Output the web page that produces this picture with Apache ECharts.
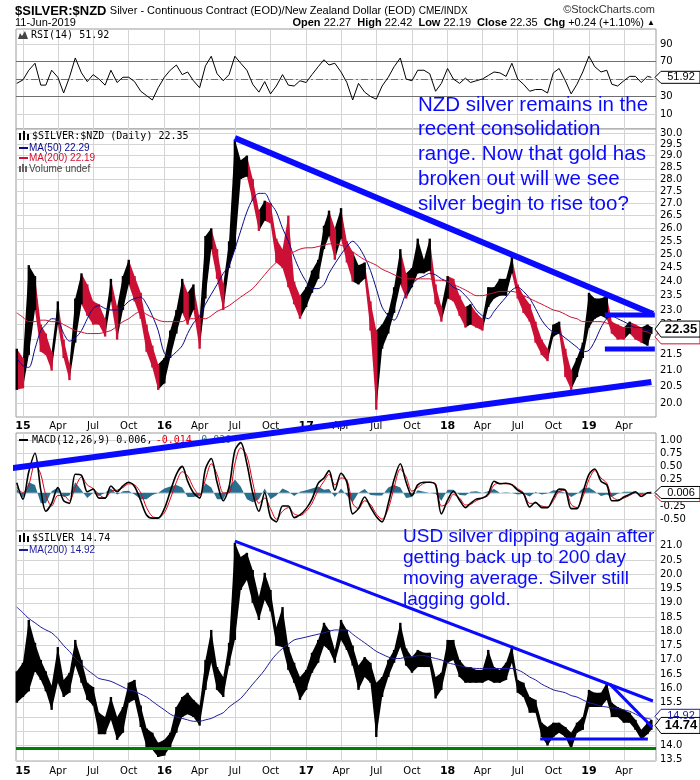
<!DOCTYPE html>
<html><head><meta charset="utf-8">
<script src="https://cdn.jsdelivr.net/npm/echarts@6/dist/echarts.min.js"></script>
<style>html,body{margin:0;padding:0;background:#fff}#c{width:700px;height:780px}</style>
</head><body><div id="c"></div>
<script>
// ---------------- DATA (half-monthly readings) ----------------
const dates = [
'2014-12-16',
'2015-01-01','2015-01-16','2015-02-01','2015-02-16','2015-03-01','2015-03-16','2015-04-01','2015-04-16','2015-05-01','2015-05-16','2015-06-01','2015-06-16','2015-07-01','2015-07-16','2015-08-01','2015-08-16','2015-09-01','2015-09-16','2015-10-01','2015-10-16','2015-11-01','2015-11-16','2015-12-01','2015-12-16',
'2016-01-01','2016-01-16','2016-02-01','2016-02-16','2016-03-01','2016-03-16','2016-04-01','2016-04-16','2016-05-01','2016-05-16','2016-06-01','2016-06-16','2016-07-01','2016-07-16','2016-08-01','2016-08-16','2016-09-01','2016-09-16','2016-10-01','2016-10-16','2016-11-01','2016-11-16','2016-12-01','2016-12-16',
'2017-01-01','2017-01-16','2017-02-01','2017-02-16','2017-03-01','2017-03-16','2017-04-01','2017-04-16','2017-05-01','2017-05-16','2017-06-01','2017-06-16','2017-07-01','2017-07-16','2017-08-01','2017-08-16','2017-09-01','2017-09-16','2017-10-01','2017-10-16','2017-11-01','2017-11-16','2017-12-01','2017-12-16',
'2018-01-01','2018-01-16','2018-02-01','2018-02-16','2018-03-01','2018-03-16','2018-04-01','2018-04-16','2018-05-01','2018-05-16','2018-06-01','2018-06-16','2018-07-01','2018-07-16','2018-08-01','2018-08-16','2018-09-01','2018-09-16','2018-10-01','2018-10-16','2018-11-01','2018-11-16','2018-12-01','2018-12-16',
'2019-01-01','2019-01-16','2019-02-01','2019-02-16','2019-03-01','2019-03-16','2019-04-01','2019-04-16','2019-05-01','2019-05-16','2019-06-01','2019-06-11'];

const nzdClose = [21.0,
20.8,23.0,23.5,22.0,21.8,21.3,23.0,21.7,21.0,22.8,23.6,23.2,23.0,22.9,22.4,23.6,22.6,23.6,24.5,23.8,23.2,22.0,21.4,20.7,
21.0,21.8,22.5,23.5,22.9,23.5,22.2,25.3,25.7,24.6,23.4,25.0,28.5,28.5,28.8,27.7,26.3,26.7,26.5,25.1,24.7,24.5,23.6,23.0,
23.3,24.0,24.5,25.6,25.8,25.2,26.3,25.5,24.3,24.3,24.5,22.6,21.7,22.0,22.4,23.2,24.1,23.8,24.1,24.5,24.6,24.7,23.4,22.8,
23.8,23.6,23.1,22.7,22.8,22.6,22.5,23.4,23.5,23.7,23.7,24.6,23.6,23.2,22.8,22.3,21.8,21.6,22.2,22.3,21.0,20.6,21.0,21.5,
23.0,23.0,23.1,23.1,22.3,22.2,22.1,22.3,22.2,22.1,22.1,22.35];
const nzdLow = [20.4,
20.45,21.5,23.0,21.6,21.5,21.0,22.5,21.4,20.7,21.9,23.2,22.8,22.5,22.5,22.1,23.3,22.0,23.0,23.9,23.3,22.7,21.6,21.1,20.4,
20.6,21.4,22.2,22.9,22.5,23.0,21.7,23.4,25.2,24.1,23.0,24.5,25.2,28.0,28.1,27.1,25.9,26.3,26.2,24.7,24.5,23.8,23.2,22.7,
23.1,23.6,24.1,25.2,25.7,24.8,25.6,24.7,24.0,23.9,24.1,22.3,19.8,21.7,22.2,22.9,23.9,23.4,23.8,24.3,24.3,24.4,23.2,22.6,
23.4,23.3,22.8,22.4,22.5,22.4,22.3,23.1,23.4,23.5,23.5,24.3,23.4,22.9,22.6,21.9,21.5,21.3,22.1,22.2,20.8,20.4,20.8,21.4,
22.4,22.7,22.8,22.7,22.2,22.0,22.0,22.2,22.0,21.9,21.8,22.19];
const nzdHigh = [21.7,
21.4,24.6,24.2,22.5,22.2,21.6,23.3,22.0,21.2,23.4,24.3,23.9,23.3,23.2,22.7,24.1,23.1,24.2,24.8,24.2,23.6,22.5,21.8,21.2,
21.4,22.3,23.0,24.1,23.6,23.9,22.7,25.7,26.0,25.2,23.9,25.5,29.7,28.8,29.0,28.0,26.7,27.1,27.0,25.6,25.2,26.5,24.0,23.5,
23.8,24.4,24.8,26.1,26.7,26.0,26.8,25.5,25.1,24.6,24.7,23.3,22.3,22.5,22.9,23.8,25.2,24.3,24.5,25.6,24.8,25.6,23.9,23.1,
24.2,24.1,23.5,23.1,23.2,22.9,22.7,23.8,23.8,24.1,24.1,24.9,23.9,23.5,23.2,22.6,22.0,21.7,22.5,22.6,21.7,21.0,21.4,21.9,
23.6,23.4,23.4,23.5,22.6,22.5,22.4,22.6,22.5,22.4,22.5,22.42];
const nzdMA50 = [21.4,
21.15,21.1,21.7,22.3,22.5,22.7,22.65,22.2,21.95,22.05,22.3,22.7,23.05,23.15,23.05,23.0,23.0,23.1,23.3,23.4,23.45,23.2,22.8,22.3,
21.55,21.45,21.6,21.8,22.2,22.55,22.8,23.2,23.55,23.9,24.3,24.6,25.2,25.9,26.65,27.15,27.4,27.4,27.0,26.65,26.0,25.5,24.9,24.4,
24.0,23.75,23.75,23.9,24.3,24.65,25.0,25.3,25.5,25.3,24.9,24.4,23.75,23.1,22.8,22.65,23.05,23.6,23.9,24.1,24.2,24.3,24.25,24.1,
24.0,23.8,23.7,23.5,23.3,23.0,22.8,22.7,22.95,23.2,23.45,23.7,23.8,23.65,23.4,23.05,22.65,22.4,22.25,22.2,22.05,21.9,21.75,21.6,
21.65,21.95,22.4,22.7,22.8,22.7,22.6,22.5,22.4,22.4,22.3,22.29];
const nzdMA200 = [22.9,
22.75,22.6,22.6,22.65,22.65,22.6,22.6,22.5,22.4,22.3,22.25,22.2,22.2,22.2,22.25,22.3,22.45,22.6,22.7,22.85,22.95,22.85,22.75,22.65,
22.6,22.6,22.6,22.6,22.7,22.7,22.7,22.7,22.8,22.95,23.05,23.15,23.3,23.45,23.6,23.75,24.0,24.25,24.5,24.7,24.9,25.0,25.1,25.2,
25.25,25.25,25.3,25.35,25.4,25.4,25.35,25.25,25.1,24.95,24.8,24.7,24.6,24.45,24.35,24.25,24.15,24.1,24.1,24.1,24.1,24.1,24.05,24.05,
24.0,23.9,23.8,23.7,23.6,23.5,23.5,23.55,23.6,23.65,23.65,23.65,23.6,23.5,23.4,23.3,23.2,23.1,23.0,22.95,22.85,22.75,22.7,22.6,
22.6,22.6,22.6,22.55,22.5,22.45,22.4,22.4,22.35,22.3,22.25,22.19];
const rsi14 = [45,
49,60,68,43,43,60,52,34,52,74,57,47,55,50,43,60,46,52,52,47,36,31,26,40,
52,60,66,55,58,48,40,65,76,56,48,55,76,68,60,44,35,47,33,42,55,43,42,48,
46,55,64,72,66,68,58,46,26,45,35,30,27,42,52,64,74,50,48,60,60,56,36,45,
62,50,45,51,46,48,50,54,58,57,53,68,50,44,36,38,38,34,57,62,48,33,44,58,
76,64,58,60,44,42,48,53,53,46,53,51.92];
const macdLine = [0.19,
-0.12,0.4,0.75,0.05,-0.35,-0.2,0.1,-0.15,-0.2,0.35,0.33,0.02,0.07,-0.1,-0.1,0.13,0.02,0.13,0.2,0.12,-0.15,-0.42,-0.48,-0.48,
-0.3,0.02,0.35,0.5,0.22,0.0,-0.1,0.45,0.65,0.2,-0.15,0.11,0.8,0.95,0.55,0.0,-0.35,0.0,-0.46,-0.55,-0.25,-0.25,-0.47,-0.42,
-0.3,-0.12,0.18,0.28,0.42,0.05,0.37,0.2,-0.4,-0.3,-0.08,-0.27,-0.45,-0.55,-0.2,0.25,0.55,0.2,-0.05,0.15,0.2,0.2,0.15,-0.4,
-0.14,0.03,-0.14,-0.28,-0.2,-0.12,-0.1,-0.02,0.22,0.17,0.18,0.15,0.05,-0.02,-0.27,-0.18,-0.28,-0.28,-0.1,0.07,0.05,-0.3,-0.3,0.0,
0.35,0.45,0.22,0.15,-0.15,-0.15,-0.08,-0.03,0.02,-0.07,0.0,0.006];
const macdSignal = [0.1,
0.0,0.15,0.55,0.35,-0.05,-0.25,-0.05,-0.05,-0.15,0.1,0.3,0.15,0.08,-0.03,-0.1,0.03,0.05,0.1,0.17,0.15,0.0,-0.28,-0.45,-0.47,
-0.38,-0.12,0.2,0.4,0.32,0.1,-0.05,0.25,0.55,0.35,0.0,0.0,0.55,0.85,0.7,0.2,-0.2,-0.1,-0.3,-0.5,-0.35,-0.28,-0.4,-0.43,
-0.35,-0.2,0.05,0.22,0.35,0.15,0.28,0.25,-0.2,-0.3,-0.15,-0.22,-0.4,-0.5,-0.3,0.1,0.45,0.3,0.03,0.1,0.18,0.2,0.17,-0.25,
-0.2,-0.03,-0.1,-0.23,-0.22,-0.15,-0.1,-0.05,0.15,0.18,0.17,0.16,0.08,0.0,-0.2,-0.2,-0.25,-0.27,-0.15,0.03,0.05,-0.22,-0.28,-0.08,
0.25,0.42,0.28,0.18,-0.07,-0.13,-0.1,-0.05,0.0,-0.04,-0.01,-0.014];
const macdHist = [0.08,
-0.1,0.2,0.15,-0.2,-0.2,0.03,0.1,-0.08,-0.05,0.2,0.05,-0.1,0.0,-0.06,0.0,0.08,-0.03,0.03,0.04,-0.03,-0.12,-0.12,-0.04,0.0,
0.08,0.12,0.15,0.1,-0.08,-0.08,-0.05,0.18,0.1,-0.12,-0.12,0.1,0.25,0.12,-0.12,-0.18,-0.12,0.08,-0.12,-0.05,0.08,0.03,-0.06,0.02,
0.05,0.08,0.12,0.06,0.07,-0.08,0.08,-0.05,-0.18,0.0,0.07,-0.04,-0.05,-0.05,0.1,0.15,0.1,-0.1,-0.08,0.05,0.02,0.0,-0.02,-0.15,
0.06,0.06,-0.04,-0.05,0.02,0.03,0.0,0.03,0.07,0.0,0.01,0.0,-0.03,-0.02,-0.07,0.02,-0.03,-0.01,0.05,0.04,0.0,-0.08,-0.02,0.08,
0.1,0.03,-0.06,-0.03,-0.08,-0.02,0.02,0.02,0.02,-0.03,0.01,0.02];
const usdClose = [15.9,
16.0,17.5,17.2,16.7,16.2,15.6,16.8,16.1,16.3,17.2,16.7,15.8,15.7,14.8,14.7,15.3,14.6,14.8,15.8,15.9,15.1,14.3,14.1,13.8,
13.9,14.1,14.9,15.3,15.4,15.3,15.0,16.6,17.3,16.4,16.0,17.3,19.5,20.0,20.2,19.5,18.6,19.3,18.8,17.6,17.8,17.0,16.6,16.0,
16.3,16.8,17.1,17.8,17.6,17.1,18.0,17.8,17.3,16.5,16.7,16.5,15.8,16.0,16.8,17.2,17.8,17.0,16.8,17.0,16.9,16.9,16.0,16.2,
17.1,17.2,16.7,16.5,16.5,16.4,16.4,16.6,16.5,16.4,16.6,17.1,16.0,15.8,15.3,15.2,14.4,14.3,14.5,14.5,14.4,14.2,14.5,14.8,
15.5,15.5,15.5,15.8,15.2,15.1,15.0,14.95,14.8,14.5,14.6,14.74];
const usdLow = [15.5,
15.7,15.9,16.6,16.3,15.9,15.25,16.2,15.7,15.85,16.8,16.2,15.6,15.4,14.4,14.4,14.9,14.2,14.45,15.5,15.6,14.65,13.95,13.85,13.6,
13.65,13.95,14.45,15.0,15.1,15.0,14.7,15.95,16.9,15.95,15.7,16.8,17.7,19.45,19.8,19.0,18.4,19.1,18.7,17.5,17.45,16.65,16.2,15.6,
15.95,16.55,16.9,17.5,17.35,16.9,17.7,17.35,16.8,15.95,16.4,16.2,14.3,15.7,16.4,16.9,17.45,16.8,16.55,16.75,16.75,16.75,15.65,15.95,
16.9,17.0,16.4,16.2,16.2,16.2,16.2,16.3,16.2,16.2,16.3,16.9,15.85,15.7,15.15,15.15,14.3,14.0,14.3,14.45,14.3,13.85,14.45,14.55,
15.35,15.35,15.35,15.6,15.0,15.0,14.8,14.8,14.55,14.2,14.4,14.55];
const usdHigh = [16.6,
16.9,18.4,17.6,17.0,16.6,16.1,17.45,16.3,16.55,17.7,17.0,16.2,16.05,15.15,15.0,15.7,15.0,15.35,16.2,16.3,15.4,14.6,14.45,14.1,
14.2,14.45,15.35,15.7,15.85,15.6,15.4,17.0,18.05,16.75,16.4,17.6,21.1,20.6,20.75,20.15,19.2,20.05,19.45,18.15,18.85,17.45,16.9,16.4,
16.65,17.25,17.7,18.3,18.05,17.35,18.4,18.05,17.5,16.8,17.1,16.9,16.2,16.4,17.0,17.35,18.3,17.4,17.1,17.35,17.25,17.25,16.4,16.55,
17.7,17.7,17.0,16.75,16.75,16.65,16.65,17.35,16.75,16.65,16.9,17.5,16.3,16.2,15.7,15.6,14.8,14.65,14.8,14.8,14.65,14.45,14.8,15.0,
15.95,15.85,15.85,16.2,15.5,15.35,15.25,15.15,14.9,14.55,14.8,14.9];
const usdMA200 = [18.85,
18.65,18.45,18.3,18.15,18.05,17.95,17.75,17.5,17.3,17.05,16.85,16.65,16.5,16.35,16.3,16.25,16.15,16.05,15.95,15.9,15.8,15.7,15.55,15.4,
15.25,15.1,15.0,14.95,14.9,14.85,14.85,14.9,14.95,15.05,15.15,15.35,15.5,15.65,15.9,16.15,16.4,16.65,16.95,17.2,17.4,17.55,17.7,17.75,
17.8,17.85,17.9,17.95,18.0,18.05,18.05,18.05,17.9,17.75,17.6,17.45,17.3,17.2,17.1,17.05,17.05,17.1,17.1,17.15,17.15,17.1,17.05,17.0,
16.9,16.85,16.8,16.75,16.72,16.7,16.7,16.7,16.7,16.7,16.7,16.7,16.65,16.55,16.4,16.3,16.15,16.05,15.95,15.9,15.85,15.75,15.7,15.6,
15.5,15.45,15.38,15.35,15.32,15.3,15.25,15.2,15.1,15.0,14.95,14.92];

// tick labels
const quarterTicks = ['2015-01-01','2015-04-01','2015-07-01','2015-10-01','2016-01-01','2016-04-01','2016-07-01','2016-10-01',
 '2017-01-01','2017-04-01','2017-07-01','2017-10-01','2018-01-01','2018-04-01','2018-07-01','2018-10-01','2019-01-01','2019-04-01'];
const rsiTicks = [10,30,50,70,90];
const nzdTicks = [20.0,20.5,21.0,21.5,22.0,22.5,23.0,23.5,24.0,24.5,25.0,25.5,26.0,26.5,27.0,27.5,28.0,28.5,29.0,29.5,30.0];
const macdTicks = [-0.5,-0.25,0,0.25,0.5,0.75,1.0];
const usdTicks = [13.5,14.0,14.5,15.0,15.5,16.0,16.5,17.0,17.5,18.0,18.5,19.0,19.5,20.0,20.5,21.0];

// hand-drawn annotation lines (date, price)
const nzdResistance = [['2016-07-01',29.78],['2019-06-15',22.86]];
const nzdSupport = [['2014-12-04',18.14],['2019-06-11',20.64]];
const nzdRangeTop = [['2019-02-11',22.83],['2019-06-20',22.83]];
const nzdRangeBottom = [['2019-02-11',21.69],['2019-06-20',21.69]];
const usdResistance = [['2016-07-01',21.16],['2019-06-15',15.56]];
const usdFalling = [['2019-02-24',16.15],['2019-06-13',14.65]];
const usdFloor = [['2018-08-28',14.23],['2019-06-02',14.23]];
const usdSupportLevel = 13.92;

// ---------------- BUILD ----------------
function ts(s){const p=s.split('-').map(Number);return Date.UTC(p[0],p[1]-1,p[2]);}
const T = dates.map(ts);
const ln = Math.log;
const monthNames=['Jan','Feb','Mar','Apr','May','Jun','Jul','Aug','Sep','Oct','Nov','Dec'];
const qTs = quarterTicks.map(ts);
const X0 = ts('2014-12-14'), X1 = ts('2019-06-23');
const LABEL_FONT = 'DejaVu Sans';

function xAxis(gi, showLabel, margin){
  return {type:'value', gridIndex:gi, min:X0, max:X1,
    axisLine:{show:false}, axisTick:{show:false, customValues:qTs},
    splitLine:{show:true, lineStyle:{color:'#d4d4d4', width:1}},
    axisLabel:{show:showLabel, customValues:qTs, margin:margin, color:'#000', fontSize:10, fontFamily:LABEL_FONT,
      formatter:function(v){const d=new Date(v);const m=d.getUTCMonth();
        return m===0?'{y|'+String(d.getUTCFullYear()).slice(2)+'}':monthNames[m];},
      rich:{y:{fontWeight:'bold',fontSize:11,fontFamily:LABEL_FONT,color:'#000'}}}
  };
}
function yAxis(gi, min, max, ticks, fmt){
  return {type:'value', gridIndex:gi, position:'right', min:min, max:max,
    axisLine:{show:false}, axisTick:{show:false, customValues:ticks},
    splitLine:{show:true, lineStyle:{color:'#d4d4d4', width:1}},
    axisLabel:{customValues:ticks, formatter:fmt, margin:4, color:'#000', fontSize:10, fontFamily:LABEL_FONT}
  };
}
const gridBase = {left:16, width:640, show:true, borderColor:'#9a9a9a', borderWidth:1, backgroundColor:'#fff'};

const nzdBars = T.map((t,i)=>[t, ln(nzdLow[i]), ln(nzdHigh[i]), ln(nzdClose[i]), (i===0||nzdClose[i]>=nzdClose[i-1])?1:0]);
const usdBars = T.map((t,i)=>[t, usdLow[i], usdHigh[i], usdClose[i], 1]);
// price ribbon: each item joins its low-high range to the next one's, like dense daily bars seen from afar
function ribbonRender(rows, colorUp, colorDown){
  return function(params, api){
    const i = params.dataIndex;
    const a = rows[i], b = rows[Math.min(i+1, rows.length-1)];
    const w = 1.2;
    const ah = api.coord([a[0], a[2]]), al = api.coord([a[0], a[1]]);
    const bh = api.coord([b[0], b[2]]), bl = api.coord([b[0], b[1]]);
    const col = b[4] ? colorUp : colorDown;
    const children = [];
    if (b !== a) {
      children.push({type:'polygon', shape:{points:[ah, bh, bl, al]}, style:{fill:col}});
    }
    children.push({type:'rect', shape:{x:ah[0]-w, y:ah[1], width:2*w, height:Math.max(1, al[1]-ah[1])}, style:{fill:a[4]?colorUp:colorDown}});
    return {type:'group', children:children};
  };
}
const lnPts = arr => arr.map(p=>[ts(p[0]), ln(p[1])]);
const pts = arr => arr.map(p=>[ts(p[0]), p[1]]);
const BLUE = '#0a0aff';
function trend(xi, yi, data, width){
  return {type:'line', xAxisIndex:xi, yAxisIndex:yi, data:data, symbol:'none', silent:true, clip:false, z:20,
    lineStyle:{color:BLUE, width:width, cap:'butt'}};
}

const option = {
  animation:false,
  backgroundColor:'#fff',
  grid:[
    Object.assign({top:29, height:100}, gridBase),
    Object.assign({top:129, height:288}, gridBase),
    Object.assign({top:433, height:98}, gridBase),
    Object.assign({top:531, height:230}, gridBase)
  ],
  xAxis:[xAxis(0,false,3), xAxis(1,true,4), xAxis(2,false,3), xAxis(3,true,5)],
  yAxis:[
    yAxis(0, -7.1, 107.1, rsiTicks, v=>String(Math.round(v))),
    yAxis(1, 2.9748, 3.4072, nzdTicks.map(ln), v=>Math.exp(v).toFixed(1)),
    yAxis(2, -0.7235, 1.1326, macdTicks, v=>v.toFixed(2)),
    yAxis(3, 13.459, 21.515, usdTicks, v=>v.toFixed(1))
  ],
  series:[
    {type:'line', xAxisIndex:0, yAxisIndex:0, data:T.map((t,i)=>[t,rsi14[i]]), symbol:'none',
      lineStyle:{color:'#000', width:1}, z:5,
      markLine:{silent:true, symbol:'none', label:{show:false},
        data:[{yAxis:70, lineStyle:{color:'#707070', width:1, type:'solid'}},
              {yAxis:30, lineStyle:{color:'#707070', width:1, type:'solid'}},
              {yAxis:50, lineStyle:{color:'#707070', width:1, type:[7,3,2,3]}}]}},
    {type:'custom', xAxisIndex:1, yAxisIndex:1, data:nzdBars, encode:{x:0,y:[1,2]}, renderItem:ribbonRender(nzdBars,'#000','#cc1035'), silent:true, z:3},
    {type:'line', xAxisIndex:1, yAxisIndex:1, data:T.map((t,i)=>[t,ln(nzdMA50[i])]), symbol:'none', lineStyle:{color:'#0a0a8c', width:1}, z:6, smooth:0.3},
    {type:'line', xAxisIndex:1, yAxisIndex:1, data:T.map((t,i)=>[t,ln(nzdMA200[i])]), symbol:'none', lineStyle:{color:'#d01030', width:1}, z:6, smooth:0.3},
    trend(1,1,lnPts(nzdResistance),6),
    trend(1,1,lnPts(nzdSupport),6),
    trend(1,1,lnPts(nzdRangeTop),5),
    trend(1,1,lnPts(nzdRangeBottom),5),
    {type:'line', xAxisIndex:2, yAxisIndex:2, data:T.map((t,i)=>[t,macdHist[i]]), symbol:'none', silent:true, z:3,
      lineStyle:{width:0}, areaStyle:{color:'#2b6f8e', opacity:1}},
    {type:'line', xAxisIndex:2, yAxisIndex:2, data:T.map((t,i)=>[t,macdSignal[i]]), symbol:'none', lineStyle:{color:'#e00010', width:1}, z:5, smooth:0.3},
    {type:'line', xAxisIndex:2, yAxisIndex:2, data:T.map((t,i)=>[t,macdLine[i]]), symbol:'none', lineStyle:{color:'#000', width:1.6}, z:6, smooth:0.3},
    {type:'custom', xAxisIndex:3, yAxisIndex:3, data:usdBars, encode:{x:0,y:[1,2]}, renderItem:ribbonRender(usdBars,'#000','#000'), silent:true, z:3},
    {type:'line', xAxisIndex:3, yAxisIndex:3, data:T.map((t,i)=>[t,usdMA200[i]]), symbol:'none', lineStyle:{color:'#1c1ca0', width:1}, z:6, smooth:0.3,
      markLine:{silent:true, symbol:'none', label:{show:false},
        data:[{yAxis:usdSupportLevel, lineStyle:{color:'#008000', width:3, type:'solid'}}]}},
    trend(3,3,pts(usdResistance),3),
    trend(3,3,pts(usdFalling),3),
    trend(3,3,pts(usdFloor),3)
  ]
};

const chart = echarts.init(document.getElementById('c'), null, {renderer:'canvas', width:700, height:780});
chart.setOption(option);

// ---------------- TEXT / TAGS ----------------
function txt(x,y,text,font,fill,align){
  return {type:'text', x:x, y:y, z:100, silent:true,
    style:{text:text, font:font, fill:fill||'#000', textAlign:align||'left', textVerticalAlign:'middle'}};
}
function tagShape(y, text, stroke, font, h, textColor){
  const x=656, w=44;
  return [
    {type:'polygon', z:110, silent:true, shape:{points:[[x-1,y],[x+5,y-h],[x+w,y-h],[x+w,y+h],[x+5,y+h]]},
      style:{fill:'#fff', stroke:stroke, lineWidth:1}},
    {type:'text', z:111, silent:true, x:x+25, y:y, style:{text:text, font:font, fill:textColor||'#000', textAlign:'center', textVerticalAlign:'middle'}}
  ];
}
const py = (ai,v)=>chart.convertToPixel({yAxisIndex:ai}, v);
const MONO = '10px "DejaVu Sans Mono"';
const SANS = '"Liberation Sans", Arial';
const g = [];
// header
g.push({type:'text', x:15, y:11, z:100, silent:true, style:{
  text:'{a|$SILVER:$NZD} {b|Silver - Continuous Contract (EOD)/New Zealand Dollar (EOD)} {c|CME/INDX}',
  textVerticalAlign:'middle',
  rich:{a:{font:'bold 13px '+SANS, fill:'#000'}, b:{font:'11px '+SANS, fill:'#000'}, c:{font:'10px '+SANS, fill:'#000'}}}});
g.push(txt(655,10,'\u00a9StockCharts.com','11px '+SANS,'#333','right'));
g.push(txt(15,23,'11-Jun-2019','11px '+SANS,'#000','left'));
g.push({type:'text', x:655, y:23, z:100, silent:true, style:{
  text:'{b|Open} 22.27  {b|High} 22.42  {b|Low} 22.19  {b|Close} 22.35  {b|Chg} +0.24 (+1.10%) {t|\u25b2}',
  font:'11px '+SANS, fill:'#000', textAlign:'right', textVerticalAlign:'middle',
  rich:{b:{font:'bold 11px '+SANS, fill:'#000'}, t:{font:'8px '+SANS, fill:'#000'}}}});
// RSI legend
g.push({type:'polygon', z:100, silent:true, shape:{points:[[18,39],[20,33],[22,36],[25,31],[28,39]]}, style:{fill:'#444'}});
g.push(txt(31,35,'RSI(14) 51.92',MONO,'#000'));
// main legend
g.push({type:'rect', z:100, silent:true, shape:{x:19,y:133,width:2,height:7}, style:{fill:'#000'}});
g.push({type:'rect', z:100, silent:true, shape:{x:23,y:131,width:2,height:9}, style:{fill:'#000'}});
g.push({type:'rect', z:100, silent:true, shape:{x:27,y:134,width:2,height:6}, style:{fill:'#000'}});
g.push(txt(32,136,'$SILVER:$NZD (Daily) 22.35',MONO,'#000'));
g.push({type:'rect', z:100, silent:true, shape:{x:19,y:147,width:9,height:2}, style:{fill:'#0a0a8c'}});
g.push(txt(29,148,'MA(50) 22.29','10px '+SANS,'#0a0a8c'));
g.push({type:'rect', z:100, silent:true, shape:{x:19,y:157,width:9,height:2}, style:{fill:'#d01030'}});
g.push(txt(29,158,'MA(200) 22.19','10px '+SANS,'#d01030'));
g.push({type:'rect', z:100, silent:true, shape:{x:19,y:166,width:2,height:6}, style:{fill:'#666'}});
g.push({type:'rect', z:100, silent:true, shape:{x:22,y:164,width:2,height:8}, style:{fill:'#666'}});
g.push({type:'rect', z:100, silent:true, shape:{x:25,y:166,width:2,height:6}, style:{fill:'#666'}});
g.push(txt(29,169,'Volume undef','10px '+SANS,'#444'));
// MACD legend
g.push({type:'rect', z:15, silent:true, shape:{x:19,y:439,width:9,height:2}, style:{fill:'#000'}});
g.push({type:'text', x:32, y:440, z:15, silent:true, style:{text:'{k|MACD(12,26,9) 0.006,} {r|-0.014,} {t|0.020}', textVerticalAlign:'middle',
  rich:{k:{font:MONO, fill:'#000'}, r:{font:MONO, fill:'#e00010'}, t:{font:MONO, fill:'#2b6f8e'}}}});
// USD legend
g.push({type:'rect', z:100, silent:true, shape:{x:19,y:535,width:2,height:7}, style:{fill:'#000'}});
g.push({type:'rect', z:100, silent:true, shape:{x:23,y:533,width:2,height:9}, style:{fill:'#000'}});
g.push({type:'rect', z:100, silent:true, shape:{x:27,y:536,width:2,height:6}, style:{fill:'#000'}});
g.push(txt(32,538,'$SILVER 14.74',MONO,'#000'));
g.push({type:'rect', z:100, silent:true, shape:{x:19,y:549,width:9,height:2}, style:{fill:'#1c1ca0'}});
g.push(txt(29,550,'MA(200) 14.92','10px '+SANS,'#1c1ca0'));
// annotations
g.push({type:'text', x:418, y:92.5, z:100, silent:true, style:{
  text:'NZD silver remains in the\nrecent consolidation\nrange. Now that gold has\nbroken out will we see\nsilver begin to rise too?',
  font:'20.5px '+SANS, fill:'#0a0aff', lineHeight:24.8, textVerticalAlign:'top'}});
g.push({type:'text', x:403, y:526.5, z:100, silent:true, style:{
  text:'USD silver dipping again after\ngetting back up to 200 day\nmoving average. Silver still\nlagging gold.',
  font:'19px '+SANS, fill:'#0a0aff', lineHeight:21, textVerticalAlign:'top'}});
// value tags
try {
  g.push(...tagShape(py(0,51.92),'51.92','#000','11px '+SANS,6));
  g.push(...tagShape(py(1,ln(22.19))+3,'','#d01030','11px '+SANS,7));
  g.push(...tagShape(py(1,ln(22.35)),'22.35','#000','bold 13px '+SANS,8));
  g.push(...tagShape(py(2,-0.014)+2,'','#e00010','11px '+SANS,6));
  g.push(...tagShape(py(2,0.006),'0.006','#000','11px '+SANS,6));
  g.push(...tagShape(py(3,14.92)-3,'14.92','#1c1ca0','11px '+SANS,7,'#1c1ca0'));
  g.push(...tagShape(py(3,14.74)+1,'14.74','#000','bold 13px '+SANS,8));
} catch(e) { console.error(e); }
chart.setOption({graphic:g});
</script>
</body></html>
